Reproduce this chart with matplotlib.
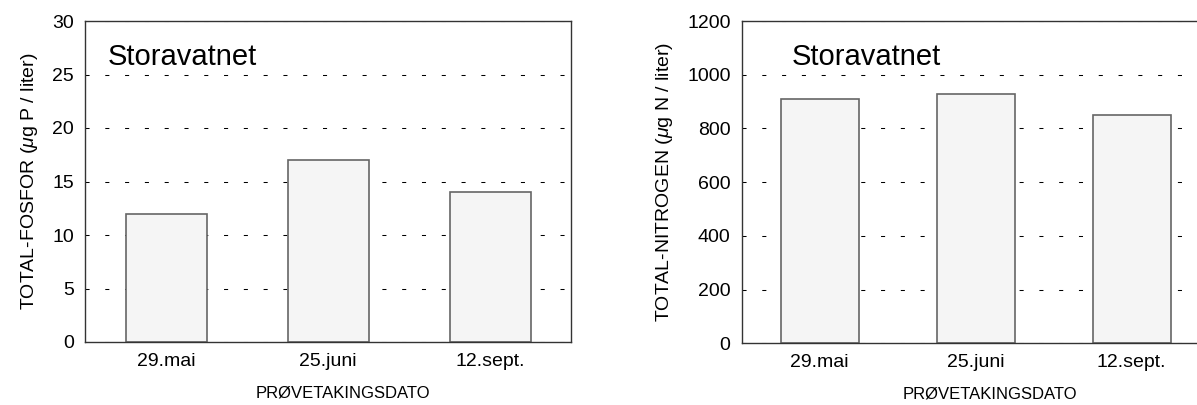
import numpy as np
import matplotlib.pyplot as plt

plt.rcParams['font.family'] = ['Liberation Sans', 'DejaVu Sans']
plt.rcParams['mathtext.fontset'] = 'custom'
plt.rcParams['mathtext.it'] = 'Liberation Sans:italic'
plt.rcParams['mathtext.rm'] = 'Liberation Sans'

datoer = ['29.mai', '25.juni', '12.sept.']
fosfor = [12, 17, 14]
nitrogen = [910, 930, 850]
stasjon = 'Storavatnet'

fig = plt.figure(figsize=(11.97, 4.05), dpi=100)
ax1 = fig.add_axes([85/1197, 63/405, 486/1197, 321/405])
ax2 = fig.add_axes([741.7/1197, 61.7/405, 468/1197, 322.3/405])

x = np.arange(len(datoer))

def tegn(ax, verdier, ymax, ystep, ylabel, tittel_x):
    ax.set_axisbelow(True)
    ax.bar(x, verdier, width=0.5, color='#f5f5f5', edgecolor='#666666', linewidth=1.2)
    ax.set_xlim(-0.5, 2.5)
    ax.set_ylim(0, ymax)
    ax.set_yticks(np.arange(0, ymax + 1, ystep))
    ax.set_xticks(x)
    ax.set_xticklabels(datoer)
    ax.yaxis.grid(True, linestyle=(0, (3.9, 15.1)), color='black', linewidth=0.75)
    ax.tick_params(axis='both', length=0, labelsize=14)
    ax.tick_params(axis='y', pad=8)
    ax.tick_params(axis='x', pad=8)
    ax.set_xlabel('PRØVETAKINGSDATO', fontsize=12)
    ax.xaxis.set_label_coords(0.53, -0.135)
    ax.xaxis.label.set_va('top')
    ax.set_ylabel(ylabel, fontsize=14, labelpad=9)
    ax.text(tittel_x, 0.863, stasjon, transform=ax.transAxes, fontsize=21,
            va='baseline', ha='left')
    for s in ax.spines.values():
        s.set_color('#333333')
        s.set_linewidth(1.0)

tegn(ax1, fosfor, 30, 5, r'TOTAL-FOSFOR ($\mu$g P / liter)', 0.047)
tegn(ax2, nitrogen, 1200, 200, r'TOTAL-NITROGEN ($\mu$g N / liter)', 0.106)

fig.savefig('out.png', dpi=100)
